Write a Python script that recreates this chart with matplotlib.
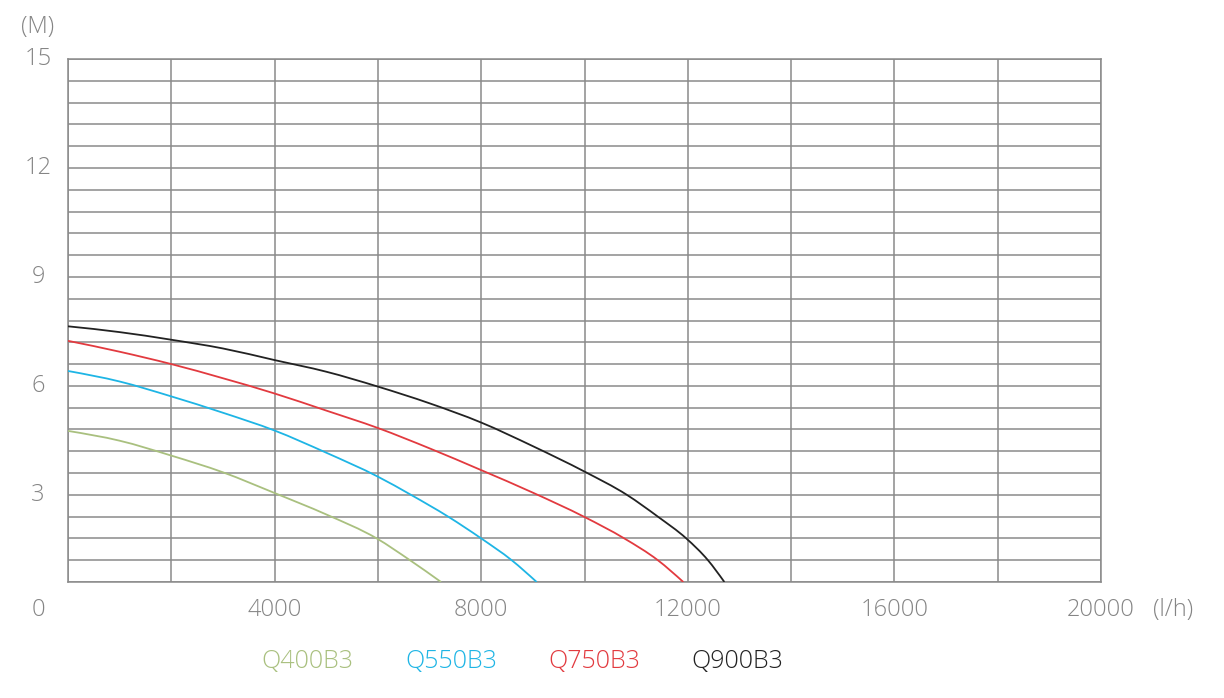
import numpy as np
import matplotlib
matplotlib.use("Agg")
import matplotlib.pyplot as plt
from matplotlib import transforms
from matplotlib.path import Path
from matplotlib.patches import PathPatch

# ---- data ----
q900_x = [0, 1000, 2000, 3000, 4000, 5000, 6000, 7000, 8000, 9000, 10000, 10820, 11420, 11970, 12390, 12708]
q900_y = [7.64, 7.48, 7.27, 7.03, 6.71, 6.39, 5.98, 5.52, 4.99, 4.34, 3.64, 3.0, 2.4, 1.8, 1.2, 0.6]

q750_x = [0, 1000, 2000, 3000, 4000, 5000, 6000, 7000, 8000, 9000, 10000, 10770, 11420, 11913]
q750_y = [7.24, 6.94, 6.60, 6.21, 5.79, 5.32, 4.84, 4.28, 3.68, 3.06, 2.39, 1.8, 1.2, 0.6]

q550_x = [0, 1000, 2000, 3000, 4000, 5000, 6000, 6640, 7360, 8000, 8590, 9074]
q550_y = [6.41, 6.12, 5.71, 5.26, 4.77, 4.16, 3.50, 3.0, 2.4, 1.8, 1.2, 0.6]

q400_x = [0, 1000, 2000, 3000, 4000, 5000, 5977, 6621, 7222]
q400_y = [4.76, 4.49, 4.08, 3.62, 3.05, 2.46, 1.8, 1.2, 0.6]

series_names = ["Q400B3", "Q550B3", "Q750B3", "Q900B3"]
series_colors = ["#a9c07f", "#1eb5e5", "#e23a3f", "#222222"]

x_tick_values = [4000, 8000, 12000, 16000, 20000]
y_tick_values = [3, 6, 9, 12, 15]

plt.rcParams['font.family'] = ['Open Sans', 'DejaVu Sans']
txt_color = "#858585"
grid_color = "#8a8a8a"
fs = 17


def smooth_path(x, y):
    """Cubic Hermite curve through the read points (tangents from neighbouring
    secants), drawn as Bezier segments."""
    x = np.asarray(x, float)
    y = np.asarray(y, float)
    h = np.diff(x)
    d = np.diff(y) / h
    n = len(x)
    m = np.zeros(n)
    for i in range(1, n - 1):
        m[i] = (h[i - 1] * d[i] + h[i] * d[i - 1]) / (h[i - 1] + h[i])
    m[0] = (3 * d[0] - m[1]) / 2
    m[-1] = (3 * d[-1] - m[-2]) / 2
    verts = [(x[0], y[0])]
    codes = [Path.MOVETO]
    for i in range(n - 1):
        verts += [(x[i] + h[i] / 3, y[i] + m[i] * h[i] / 3),
                  (x[i + 1] - h[i] / 3, y[i + 1] - m[i + 1] * h[i] / 3),
                  (x[i + 1], y[i + 1])]
        codes += [Path.CURVE4] * 3
    return Path(verts, codes)


fig = plt.figure(figsize=(12.24, 6.98), dpi=100)
ax = fig.add_axes([68/1224, 1 - 582/698, (1101-68)/1224, (582-59)/698])

ax.set_xlim(0, 20000)
ax.set_ylim(0.6, 15)
ax.set_xticks(np.arange(0, 20001, 2000))
ax.set_yticks(np.round(np.arange(0.6, 15.01, 0.6), 2))
ax.tick_params(length=0, labelbottom=False, labelleft=False)
ax.grid(True, color=grid_color, linewidth=1.1)
for s in ax.spines.values():
    s.set_color(grid_color)
    s.set_linewidth(1.1)

xs = [q400_x, q550_x, q750_x, q900_x]
ys = [q400_y, q550_y, q750_y, q900_y]
for x, y, c in zip(xs, ys, series_colors):
    patch = PathPatch(smooth_path(x, y), facecolor='none', edgecolor=c,
                      linewidth=1.3, zorder=3, capstyle='butt')
    ax.add_patch(patch)

# y labels
ytr = transforms.blended_transform_factory(ax.transAxes, ax.transData)
for v in y_tick_values:
    ax.text(-0.029, v, str(v), transform=ytr, ha='center', va='center',
            fontsize=fs, color=txt_color, fontweight='light')

# x labels
xtr = transforms.blended_transform_factory(ax.transData, ax.transAxes)
for v in x_tick_values:
    ax.text(v, -0.054, str(v), transform=xtr, ha='center', va='center',
            fontsize=fs, color=txt_color, fontweight='light')
ax.text(-0.029, -0.054, "0", transform=ax.transAxes, ha='center', va='center',
        fontsize=fs, color=txt_color, fontweight='light')
ax.text(1.07, -0.054, "(l/h)", transform=ax.transAxes, ha='center', va='center',
        fontsize=fs, color=txt_color, fontweight='light')
ax.text(-0.029, 1.062, "(M)", transform=ax.transAxes, ha='center', va='center',
        fontsize=fs, color=txt_color, fontweight='light')

# legend texts
leg_x = [307, 451, 594, 737]
for name, c, px in zip(series_names, series_colors, leg_x):
    fig.text(px / 1224, 1 - 662/698, name, ha='center', va='center',
             fontsize=18, color=c, fontweight='light')

fig.savefig("out.png", dpi=100)
